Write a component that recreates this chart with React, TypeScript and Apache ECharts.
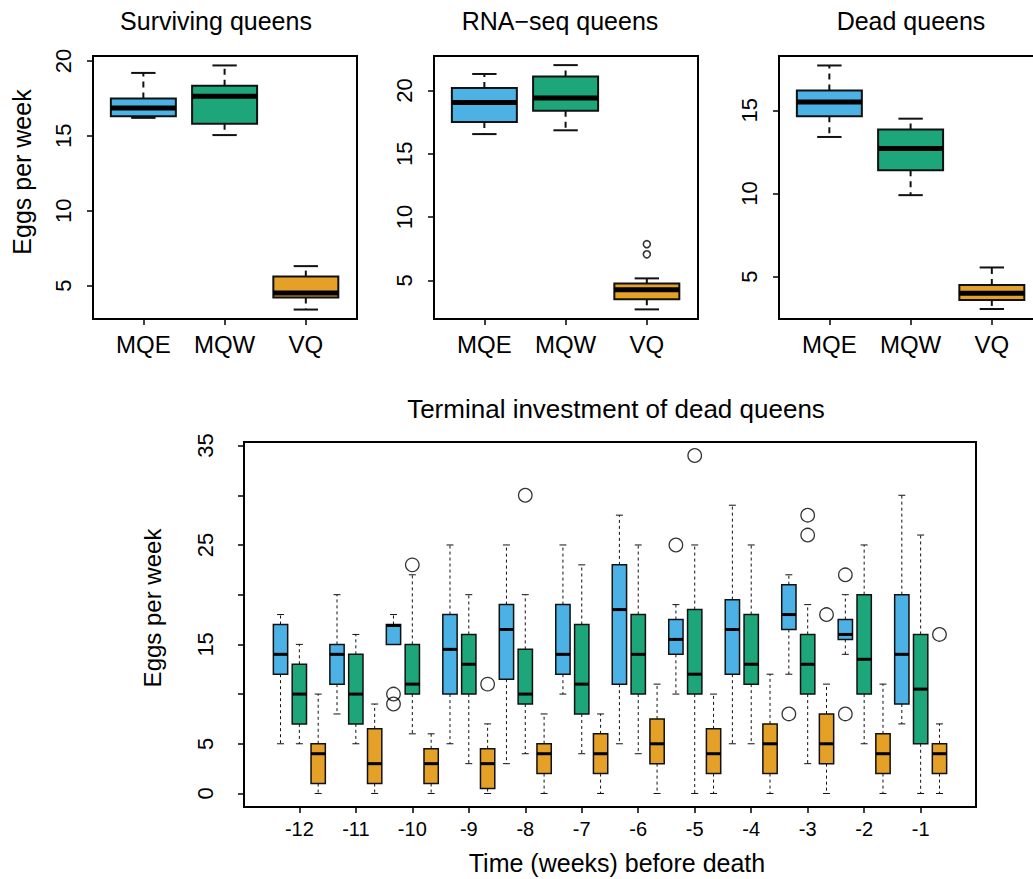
import { useEffect, useRef } from "react";
import * as echarts from "echarts";

// ---------- data ----------
const groupNames = ["MQE", "MQW", "VQ"];
const groupColors = ["#4cb2e5", "#1ea67b", "#e5a027"];

// Five-number summaries: [lower whisker, Q1, median, Q3, upper whisker]
const survivingStats = [
  [16.2, 16.3, 16.85, 17.5, 19.2],
  [15.05, 15.8, 17.65, 18.35, 19.7],
  [3.4, 4.2, 4.5, 5.6, 6.3],
];
const rnaseqStats = [
  [16.55, 17.5, 19.05, 20.2, 21.3],
  [16.85, 18.4, 19.4, 21.1, 22.0],
  [2.7, 3.5, 4.25, 4.75, 5.15],
];
const rnaseqVqOutliers = [7.05, 7.85];
const deadStats = [
  [13.4, 14.65, 15.5, 16.2, 17.7],
  [9.9, 11.4, 12.7, 13.85, 14.5],
  [3.05, 3.6, 4.0, 4.5, 5.55],
];

const weekLabels = ["-12", "-11", "-10", "-9", "-8", "-7", "-6", "-5", "-4", "-3", "-2", "-1"];
const mqeWeekly = [
  [5, 12, 14, 17, 18],
  [8, 11, 14, 15, 20],
  [15, 15, 16.9, 17, 18],
  [5, 10, 14.5, 18, 25],
  [3, 11.5, 16.5, 19, 25],
  [10, 12, 14, 19, 25],
  [5, 11, 18.5, 23, 28],
  [10, 14, 15.5, 17.5, 19],
  [5, 12, 16.5, 19.5, 29],
  [12, 16.5, 18, 21, 22],
  [14, 15.5, 16, 17.5, 20],
  [7, 9, 14, 20, 30],
];
const mqwWeekly = [
  [5, 7, 10, 13, 15],
  [5, 7, 10, 14, 16],
  [6, 10, 11, 15, 22],
  [3, 10, 13, 16, 20],
  [4, 9, 10, 14.5, 20],
  [4, 8, 11, 17, 23],
  [4, 10, 14, 18, 25],
  [0, 10, 12, 18.5, 25],
  [5, 11, 13, 18, 25],
  [3, 10, 13, 16, 19],
  [5, 10, 13.5, 20, 25],
  [0, 5, 10.5, 16, 26],
];
const vqWeekly = [
  [0, 1, 4, 5, 10],
  [0, 1, 3, 6.5, 9],
  [0, 1, 3, 4.5, 6],
  [0, 0.5, 3, 4.5, 7],
  [0, 2, 4, 5, 8],
  [0, 2, 4, 6, 8],
  [0, 3, 5, 7.5, 11],
  [0, 2, 4, 6.5, 10],
  [0, 2, 5, 7, 12],
  [0, 3, 5, 8, 11],
  [0, 2, 4, 6, 11],
  [0, 2, 4, 5, 7],
];
// Outliers: [week index, eggs per week]
const mqeWeeklyOutliers = [[2, 10], [2, 9], [7, 25], [9, 8], [10, 22], [10, 8]];
const mqwWeeklyOutliers = [[2, 23], [4, 30], [7, 34], [9, 28], [9, 26]];
const vqWeeklyOutliers = [[3, 11], [9, 18], [11, 16]];

// ---------- helpers ----------
const FONT = "'Liberation Sans', Arial, Helvetica, sans-serif";

type BoxStyle = {
  boxW: number;
  capW: number;
  border: number;
  median: number;
  whisker: number;
  dash: number[];
};

function boxRenderer(st: BoxStyle) {
  return (_params: any, api: any) => {
    const x = api.value(0);
    const lo = api.coord([x, api.value(1)]);
    const q1 = api.coord([x, api.value(2)]);
    const md = api.coord([x, api.value(3)]);
    const q3 = api.coord([x, api.value(4)]);
    const hi = api.coord([x, api.value(5)]);
    const color = groupColors[api.value(6)];
    const half = api.size([st.boxW, 0])[0] / 2;
    const capHalf = api.size([st.capW, 0])[0] / 2;
    const cx = md[0];
    const stroke = "#111";
    return {
      type: "group",
      children: [
        { type: "line", shape: { x1: cx, y1: q3[1], x2: cx, y2: hi[1] }, style: { stroke, lineWidth: st.whisker, lineDash: st.dash } },
        { type: "line", shape: { x1: cx, y1: q1[1], x2: cx, y2: lo[1] }, style: { stroke, lineWidth: st.whisker, lineDash: st.dash } },
        { type: "line", shape: { x1: cx - capHalf, y1: hi[1], x2: cx + capHalf, y2: hi[1] }, style: { stroke, lineWidth: st.whisker } },
        { type: "line", shape: { x1: cx - capHalf, y1: lo[1], x2: cx + capHalf, y2: lo[1] }, style: { stroke, lineWidth: st.whisker } },
        { type: "rect", shape: { x: cx - half, y: q3[1], width: 2 * half, height: q1[1] - q3[1] }, style: { fill: color, stroke, lineWidth: st.border } },
        { type: "line", shape: { x1: cx - half, y1: md[1], x2: cx + half, y2: md[1] }, style: { stroke: "#000", lineWidth: st.median } },
      ],
    };
  };
}

function valueAxis(gridIndex: number, min: number, max: number, ticks: number[], labels: number[], fmt: (v: number) => string, fontSize: number, margin: number, rotate = 0) {
  return {
    type: "value",
    gridIndex,
    min,
    max,
    axisLine: { show: false, onZero: false },
    splitLine: { show: false },
    axisTick: { show: true, length: 6, customValues: ticks, lineStyle: { color: "#000", width: 1.5 } },
    axisLabel: { customValues: labels, formatter: fmt, fontSize, fontFamily: FONT, color: "#000", margin, rotate },
  };
}

const topPanels = [
  { left: 93, stats: survivingStats, yMin: 2.77, yMax: 20.33, yTicks: [5, 10, 15, 20] },
  { left: 434, stats: rnaseqStats, yMin: 1.94, yMax: 22.72, yTicks: [5, 10, 15, 20] },
  { left: 779, stats: deadStats, yMin: 2.45, yMax: 18.27, yTicks: [5, 10, 15] },
];

export default function App() {
  const ref = useRef<HTMLDivElement>(null);

  useEffect(() => {
    if (!ref.current) return;
    const chart = echarts.init(ref.current, undefined, { renderer: "svg" });

    const grids: any[] = [];
    const xAxes: any[] = [];
    const yAxes: any[] = [];
    const series: any[] = [];

    const gridBase = { show: true, borderColor: "#000", borderWidth: 2, backgroundColor: "transparent", containLabel: false, outerBoundsMode: "none" };

    topPanels.forEach((p, i) => {
      grids.push({ ...gridBase, left: p.left, top: 56, width: 264, height: 263 });
      xAxes.push(valueAxis(i, 0.38, 3.63, [1, 2, 3], [1, 2, 3], (v) => groupNames[Math.round(v) - 1] ?? "", 24, 13));
      yAxes.push(valueAxis(i, p.yMin, p.yMax, p.yTicks, p.yTicks, (v) => String(v), 22, 19, 90));
      series.push({
        type: "custom",
        xAxisIndex: i,
        yAxisIndex: i,
        renderItem: boxRenderer({ boxW: 0.8, capW: 0.3, border: 2, median: 5, whisker: 2, dash: [6, 5] }),
        data: p.stats.map((s, g) => [g + 1, ...s, g]),
        z: 2,
      });
    });

    series.push({
      type: "scatter",
      xAxisIndex: 1,
      yAxisIndex: 1,
      symbol: "circle",
      symbolSize: 7,
      itemStyle: { color: "rgba(0,0,0,0)", borderColor: "#000", borderWidth: 1.6 },
      data: rnaseqVqOutliers.map((v) => [3, v]),
      z: 3,
    });

    // Weekly panel: 36 box positions, three per week
    grids.push({ ...gridBase, left: 244, top: 442, width: 732, height: 365 });
    const weekCenters = weekLabels.map((_, k) => 2 + 3 * k);
    xAxes.push(valueAxis(3, -0.94, 37.94, weekCenters, weekCenters, (v) => weekLabels[Math.round((v - 2) / 3)] ?? "", 20, 12));
    yAxes.push(valueAxis(3, -1.36, 35.36, [0, 5, 10, 15, 20, 25, 30, 35], [0, 5, 15, 25, 35], (v) => String(v), 22, 28, 90));

    const weekly = [mqeWeekly, mqwWeekly, vqWeekly];
    const weeklyOut = [mqeWeeklyOutliers, mqwWeeklyOutliers, vqWeeklyOutliers];
    weekly.forEach((stats, g) => {
      series.push({
        type: "custom",
        xAxisIndex: 3,
        yAxisIndex: 3,
        renderItem: boxRenderer({ boxW: 0.76, capW: 0.37, border: 1.5, median: 3, whisker: 1, dash: [3, 3] }),
        data: stats.map((s, k) => [1 + 3 * k + g, ...s, g]),
        z: 2,
      });
      series.push({
        type: "scatter",
        xAxisIndex: 3,
        yAxisIndex: 3,
        symbol: "circle",
        symbolSize: 13.5,
        itemStyle: { color: "rgba(0,0,0,0)", borderColor: "#000", borderWidth: 1.3 },
        data: weeklyOut[g].map(([k, v]) => [1 + 3 * k + g, v]),
        z: 3,
      });
    });

    const label = (text: string, x: number, y: number, fontSize: number, rotation = 0) => ({
      type: "text",
      x,
      y,
      rotation,
      style: { text, fontSize, fontFamily: FONT, fill: "#000", align: "center", verticalAlign: "middle" },
    });

    chart.setOption({
      animation: false,
      backgroundColor: "#fff",
      grid: grids,
      xAxis: xAxes,
      yAxis: yAxes,
      series,
      graphic: [
        label("Surviving queens", 216, 21, 25),
        label("RNA\u2212seq queens", 560, 21, 25),
        label("Dead queens", 911, 21, 25),
        label("Eggs per week", 22, 172, 25, Math.PI / 2),
        label("Terminal investment of dead queens", 616, 409, 26),
        label("Eggs per week", 152, 608, 24, Math.PI / 2),
        label("Time (weeks) before death", 617, 863, 25),
      ],
    });

    return () => chart.dispose();
  }, []);

  return <div ref={ref} style={{ position: "absolute", left: 0, top: 0, width: 1033, height: 879 }} />;
}
